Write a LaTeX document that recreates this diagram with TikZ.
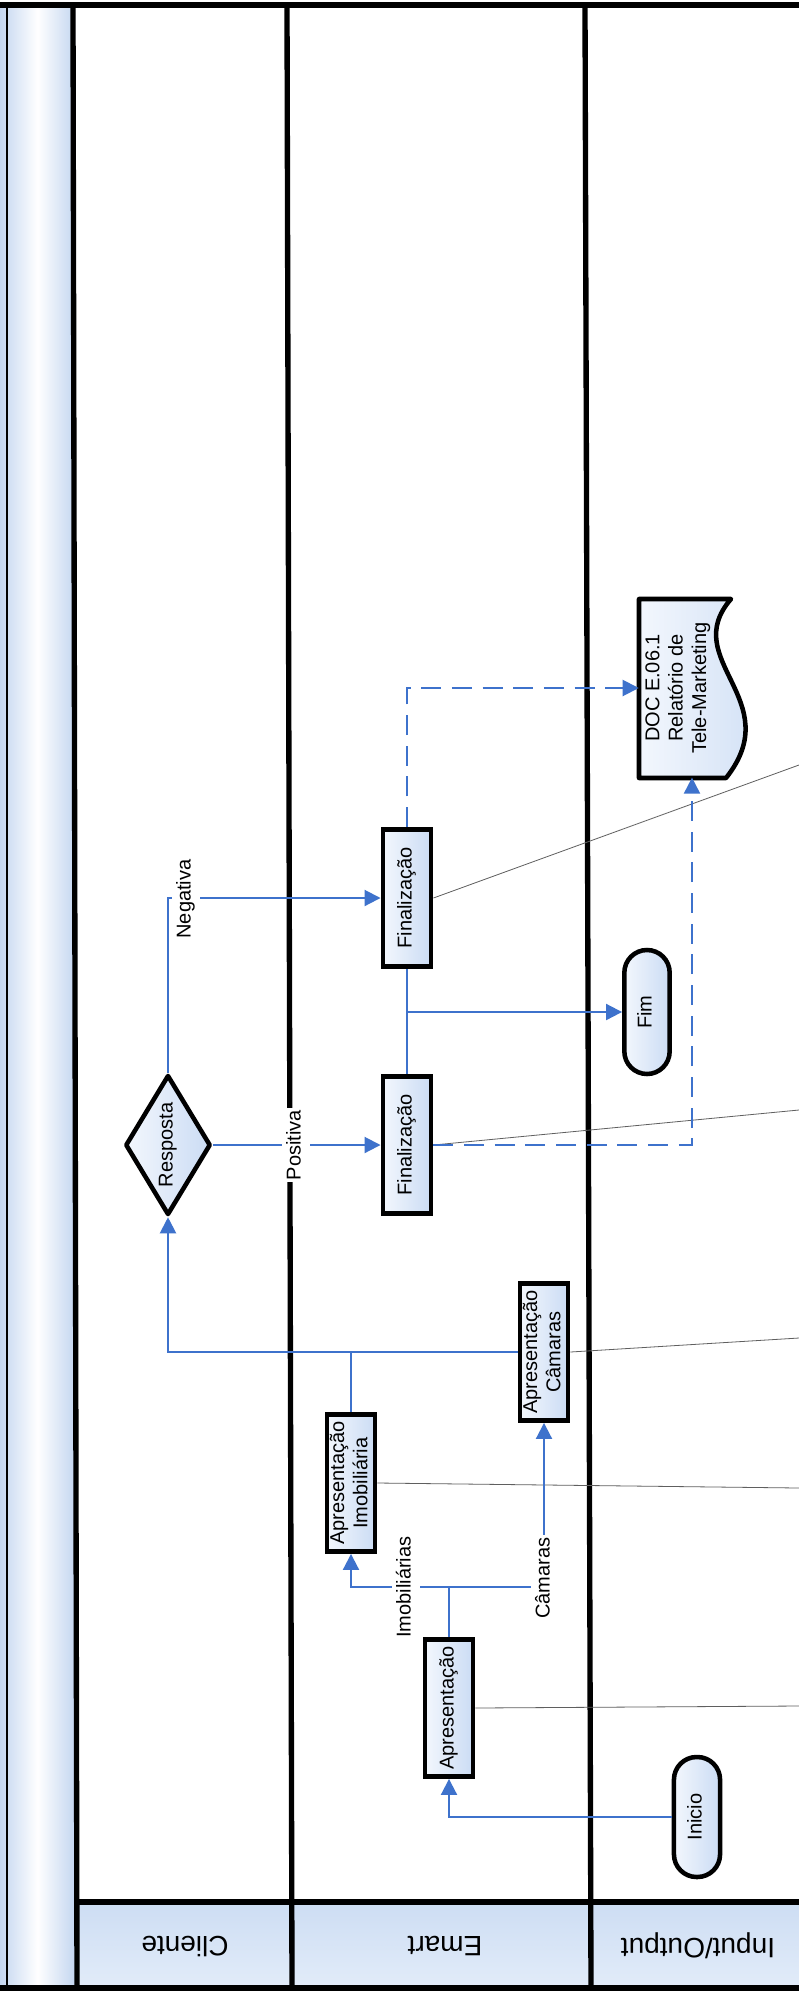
\documentclass[tikz,border=0pt]{standalone}
\usepackage{fontspec}
\setmainfont{Liberation Sans}
\usepackage{graphicx}
\usetikzlibrary{shapes.geometric,arrows.meta,calc}

\newcommand\myboxfont{\fontsize{15}{17.5}\selectfont}
\newcommand\myheadfont{\fontsize{21}{25}\selectfont}
\newcommand\rtxt[1]{\rotatebox{90}{\begin{tabular}{@{}c@{}}#1\end{tabular}}}

\definecolor{flowblue}{RGB}{62,114,204}
\definecolor{boxlight}{RGB}{243,247,253}
\definecolor{boxblue}{RGB}{203,220,244}
\definecolor{stripblue}{RGB}{196,214,240}
\definecolor{headtop}{RGB}{205,221,243}
\definecolor{headbot}{RGB}{226,236,249}
\definecolor{annotgray}{RGB}{95,95,95}

\tikzset{
  lane/.style={line width=4pt, black},
  thinborder/.style={line width=1.6pt, black},
  procbox/.style={draw, line width=3.4pt, rectangle, left color=boxlight, right color=boxblue,
    minimum width=36.3pt, minimum height=103pt, inner sep=0pt, font=\myboxfont},
  decision/.style={draw, line width=3.4pt, diamond, shape aspect=0.6, line join=round,
    left color=boxlight, right color=boxblue, minimum width=64pt, minimum height=105pt,
    inner sep=0pt, font=\myboxfont},
  term/.style={draw, line width=3.4pt, rectangle, rounded corners=17pt,
    left color=boxlight, right color=boxblue, inner sep=0pt, font=\myboxfont},
  doctxt/.style={inner sep=0pt, minimum width=58.5pt, minimum height=134pt, font=\myboxfont},
  flowline/.style={line width=1.5pt, flowblue},
  flow/.style={flowline, -{Triangle[length=12pt,width=12pt]}},
  dflow/.style={flow, dash pattern=on 15pt off 8pt},
  annot/.style={line width=0.6pt, annotgray},
  lbl/.style={fill=white, inner sep=1.5pt, font=\myboxfont},
  headtxt/.style={font=\myheadfont, inner sep=0pt},
}

\begin{document}
\begin{tikzpicture}[x=0.75pt, y=-0.75pt]
\useasboundingbox (0,0) rectangle (799,1991);
\fill[white] (0,0) rectangle (799,1991);

% left strip and header band
\shade[left color=stripblue, right color=stripblue, middle color=white] (0,5) rectangle (75,1988);
\shade[top color=headtop, bottom color=headbot] (75,1902) rectangle (799,1988);

% frame and lane lines
\draw[lane] (0,5) -- (799,5);
\draw[lane] (0,1988) -- (799,1988);
\draw[thinborder] (7,5) -- (7,1988);
\draw[lane] (73,5) -- (77,1988);
\draw[lane] (287,5) -- (292,1988);
\draw[lane] (585,5) -- (591,1988);
\draw[lane] (75,1902) -- (799,1902);

% lane headers
\node[headtxt, rotate=180] (hcli) at (185,1946) {Cliente};
\node[headtxt, rotate=180] (hema) at (445,1946) {Emart};
\node[headtxt, rotate=180] (hio) at (698,1946) {Input/Output};

% document shape
\coordinate (docc) at (678,688);
\begin{scope}[shift={(docc)}]
  \draw[line width=3.4pt, line join=round, left color=boxlight, right color=boxblue]
    (-39,-89) -- (53,-89) .. controls (0,-28) and (110,12) .. (48,90) -- (-39,90) -- cycle;
\end{scope}

% nodes
\node[decision] (resp) at (168,1145) {\rtxt{Resposta}};
\node[procbox] (fin2) at (407,898) {\rtxt{Finalização}};
\node[procbox] (fin1) at (407,1145) {\rtxt{Finalização}};
\node[procbox] (cam) at (544,1352) {\rtxt{Apresentação\\Câmaras}};
\node[procbox] (imob) at (351,1483) {\rtxt{Apresentação\\Imobiliária}};
\node[procbox] (apres) at (449,1708) {\rtxt{Apresentação}};
\node[term, minimum width=34.6pt, minimum height=90pt] (inicio) at (697,1817) {\rtxt{Inicio}};
\node[term, minimum width=34pt, minimum height=93pt] (fim) at (647,1012) {\rtxt{Fim}};
\node[doctxt] (doc) at (docc) {\rtxt{DOC E.06.1\\Relatório de\\Tele-Marketing}};

% annotation lines
\coordinate (e1) at (799,1706);
\coordinate (e2) at (799,1488);
\coordinate (e3) at (799,1338);
\coordinate (e4) at (799,1110);
\coordinate (e5) at (799,765);
\draw[annot] (apres.east) -- (e1);
\draw[annot] (imob.east) -- (e2);
\draw[annot] (cam.east) -- (e3);
\draw[annot] (fin1.east) -- (e4);
\draw[annot] (fin2.east) -- (e5);

% connectors
\coordinate (j1) at (449,1587);
\draw[flow] (inicio.west) -| (apres.south);
\draw[flowline] (apres.north) -- (j1);
\draw[flow] (j1) -| (imob.south);
\draw[flow] (j1) -| (cam.south);
\draw[flowline] (imob.north) |- (cam.west);
\draw[flow] (cam.west) -| (resp.south);
\draw[flow] (resp.east) -- (fin1.west);
\draw[flow] (resp.north) |- (fin2.west);
\draw[flowline] (fin1.north) -- (fin2.south);
\draw[flow] (fin1.north |- fim.west) -- (fim.west);
\draw[dflow] (fin1.east) -| ($(doc.south)+(14,0)$);
\draw[dflow] (fin2.north) |- (doc.west);

% connector labels
\node[lbl] (lpos) at (296,1145) {\rtxt{Positiva}};
\node[lbl] (lneg) at (186,899) {\rtxt{Negativa}};
\node[lbl] (limo) at (406,1587) {\rtxt{Imobiliárias}};
\node[lbl] (lcam) at (545,1578) {\rtxt{Câmaras}};
\end{tikzpicture}
\end{document}
